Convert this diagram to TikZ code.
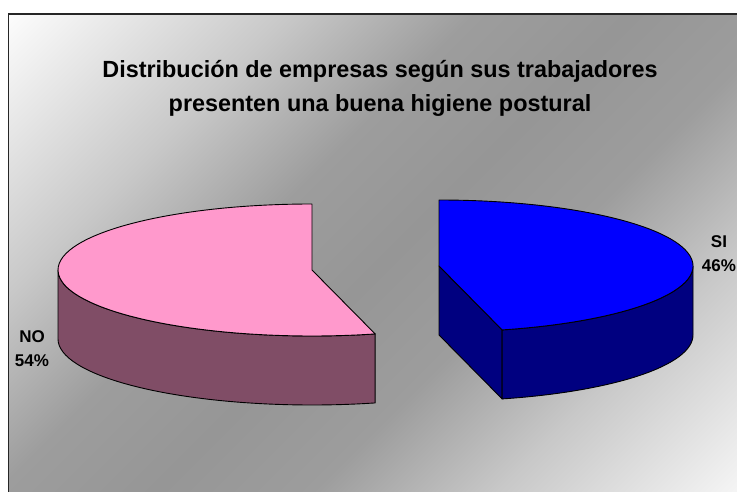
\documentclass[tikz,border=0pt]{standalone}
\usepackage{fontspec}
\setmainfont{Liberation Sans}
\usepackage{tikz}
\usetikzlibrary{calc}
\definecolor{rosaNO}{RGB}{255,153,204}
\definecolor{rosaNOlado}{RGB}{128,77,102}
\definecolor{azulSI}{RGB}{0,0,255}
\definecolor{azulSIlado}{RGB}{0,0,128}
\definecolor{grisfondo}{RGB}{150,150,150}
\definecolor{grismedio}{RGB}{157,157,157}
\definecolor{grisclaro}{RGB}{200,200,200}
\definecolor{blancofondo}{RGB}{252,252,252}
\pgfdeclareverticalshading{fondo}{100bp}{color(0bp)=(blancofondo); color(14.6bp)=(blancofondo); color(30.5bp)=(grisclaro); color(41bp)=(grismedio); color(50bp)=(grisfondo); color(59bp)=(grismedio); color(69.5bp)=(grisclaro); color(85.4bp)=(blancofondo); color(100bp)=(blancofondo)}

\begin{document}
\begin{tikzpicture}[x=1pt,y=1pt,
  torta/.style={draw=black,line width=0.9pt,line join=round},
  etiqueta/.style={font=\bfseries\fontsize{17}{24}\selectfont,align=center,inner sep=0pt}]
%Bild 737x491 Punkte, y von unten gezaehlt
%Torte: Ellipse Rx,Ry, Hoehe dz; NO 54% ab 90 Grad gegen Uhrzeiger, SI 46% davor
  \pgfmathsetmacro{\Rx}{254}
  \pgfmathsetmacro{\Ry}{66}
  \pgfmathsetmacro{\dz}{69}
  \pgfmathsetmacro{\wNO}{90+54*3.6}
  \pgfmathsetmacro{\wSI}{90-46*3.6}
\clip (0,0) rectangle (737,491);
\fill[white] (0,0) rectangle (737,491);
\shadedraw[shading=fondo,shading angle=45,draw=black!85,line width=1.2pt] (8.5,477) rectangle (760,-20);
%NO, Mitte (312,221)
\begin{scope}[shift={(312,221)}]
\draw[torta,fill=rosaNOlado] (180:{\Rx} and {\Ry}) arc[start angle=180,end angle=\wNO,x radius=\Rx,y radius=\Ry] -- ++(0,-\dz) arc[start angle=\wNO,end angle=180,x radius=\Rx,y radius=\Ry] -- cycle;
\draw[torta,fill=rosaNO] (0,0) -- (90:{\Rx} and {\Ry}) arc[start angle=90,end angle=\wNO,x radius=\Rx,y radius=\Ry] -- cycle;
\end{scope}
%SI, Mitte (439,225), herausgezogen
\begin{scope}[shift={(439,225)}]
\draw[torta,fill=azulSIlado] (0,0) -- (\wSI:{\Rx} and {\Ry}) -- ++(0,-\dz) -- (0,-\dz) -- cycle;
\draw[torta,fill=azulSIlado] (\wSI:{\Rx} and {\Ry}) arc[start angle=\wSI,end angle=0,x radius=\Rx,y radius=\Ry] -- ++(0,-\dz) arc[start angle=0,end angle=\wSI,x radius=\Rx,y radius=\Ry] -- cycle;
\draw[torta,fill=azulSI] (0,0) -- (\wSI:{\Rx} and {\Ry}) arc[start angle=\wSI,end angle=90,x radius=\Rx,y radius=\Ry] -- cycle;
\end{scope}
%base = Grundlinie der zweiten Zeile
\node[anchor=base,font=\bfseries\fontsize{23.4}{34}\selectfont,align=center,inner sep=0pt] (titulo) at (380,379) {Distribución de empresas según sus trabajadores\\presenten una buena higiene postural};
\node[etiqueta] (etiqNO) at (32,142) {NO\\54\%};
\node[etiqueta] (etiqSI) at (719,237.5) {SI\\46\%};
\end{tikzpicture}
\end{document}
